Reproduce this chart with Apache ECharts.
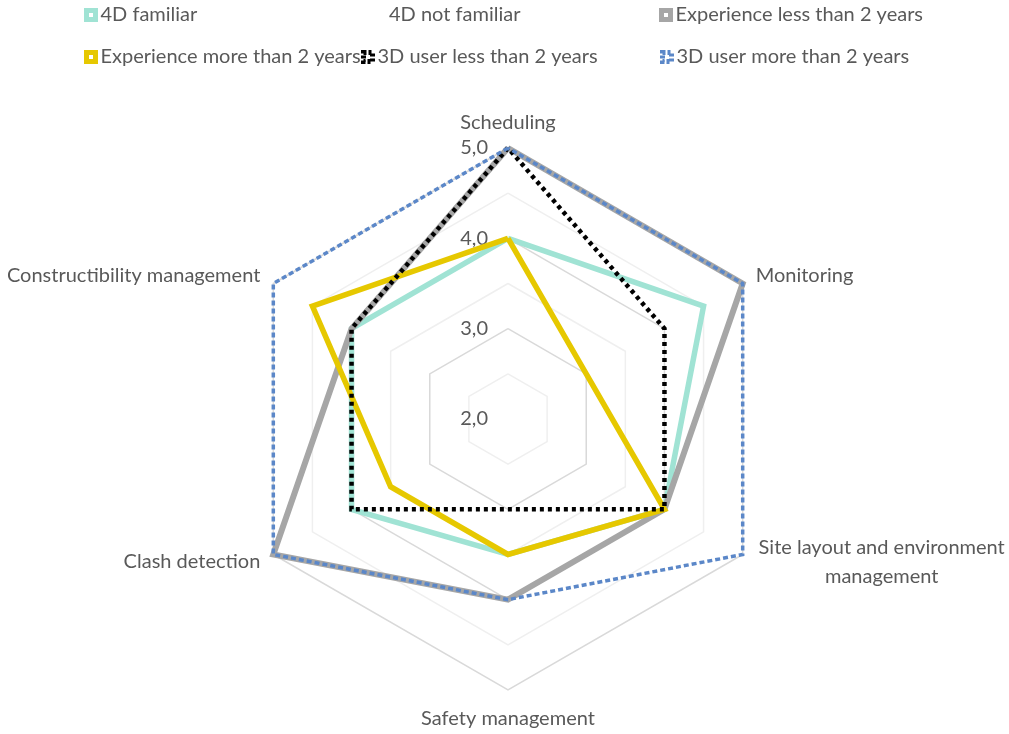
<!DOCTYPE html>
<html>
<head>
<meta charset="utf-8">
<script src="https://cdn.jsdelivr.net/npm/echarts@6/dist/echarts.min.js"></script>
<style>
  html, body { margin: 0; padding: 0; background: #fff; }
  #chart { width: 1009px; height: 734px; }
</style>
</head>
<body>
<div id="chart"></div>
<script>
// Axes, listed clockwise from the top
const categories = [
  'Scheduling',
  'Monitoring',
  'Site layout and environment management',
  'Safety management',
  'Clash detection',
  'Constructibility management'
];

// Scores per group, same order as categories
const fourDFamiliar     = [4.0, 4.5, 4.0, 3.5, 4.0, 4.0];
const fourDNotFamiliar  = [];
const expLessThan2      = [5.0, 5.0, 4.0, 4.0, 5.0, 4.0];
const expMoreThan2      = [4.0, 3.0, 4.0, 3.5, 3.5, 4.5];
const user3DLessThan2   = [5.0, 4.0, 4.0, 3.0, 4.0, 4.0];
const user3DMoreThan2   = [5.0, 5.0, 5.0, 4.0, 5.0, 5.0];

const seriesNames = [
  '4D familiar',
  '4D not familiar',
  'Experience less than 2 years',
  'Experience more than 2 years',
  '3D user less than 2 years',
  '3D user more than 2 years'
];

const scaleMin = 2;
const scaleMax = 5;
const scaleSteps = 6;

const TEXT = '#595959';
const FONT = 'Lato';
const FS = 20;

const styles = [
  { color: '#a0e3d4', width: 5.5, type: 'solid' },
  { color: '#ffffff', width: 0, type: 'solid', opacity: 0 },
  { color: '#a6a6a6', width: 6, type: 'solid' },
  { color: '#e6c800', width: 5.5, type: 'solid' },
  { color: '#000000', width: 4.5, type: [4, 4] },
  { color: '#5b87c8', width: 3.5, type: [5, 3] }
];

const seriesValues = [fourDFamiliar, fourDNotFamiliar, expLessThan2, expMoreThan2, user3DLessThan2, user3DMoreThan2];

// ECharts places indicators counter-clockwise, so keep the first and reverse the rest
const toCCW = arr => arr.length ? [arr[0]].concat(arr.slice(1).reverse()) : [];

const indicators = toCCW(categories).map((name, i) => ({
  name: name,
  min: scaleMin,
  max: scaleMax,
  axisLabel: i === 0 ? {
    show: true,
    color: TEXT,
    fontFamily: FONT,
    fontSize: FS,
    margin: 20,
    formatter: v => (Math.abs(v - Math.round(v)) < 1e-6 ? v.toFixed(1).replace('.', ',') : '')
  } : { show: false }
}));

const series = seriesNames.map((name, i) => ({
  type: 'radar',
  name: name,
  symbol: 'none',
  z: 2 + i,
  silent: true,
  lineStyle: {
    color: styles[i].color,
    width: styles[i].width,
    type: styles[i].type,
    opacity: styles[i].opacity === undefined ? 1 : styles[i].opacity,
    cap: 'butt',
    join: 'miter'
  },
  itemStyle: { color: styles[i].color },
  data: [{ name: name, value: toCCW(seriesValues[i]) }]
}));

// One legend block per entry, laid out in two rows of three
const legendSlots = [
  { left: 84, top: 5 },
  { left: 375, top: 5 },
  { left: 659, top: 5 },
  { left: 84, top: 47 },
  { left: 361, top: 47 },
  { left: 660, top: 47 }
];

const legends = seriesNames.map((name, i) => {
  const st = styles[i];
  const hidden = i === 1;
  return {
    left: legendSlots[i].left,
    top: legendSlots[i].top,
    orient: 'horizontal',
    padding: 0,
    selectedMode: false,
    itemWidth: 9,
    itemHeight: 9,
    itemGap: 0,
    textStyle: { color: TEXT, fontFamily: FONT, fontSize: FS, padding: [0, 0, 0, 0] },
    lineStyle: { width: 0, opacity: 0 },
    data: [{
      name: name,
      icon: hidden ? 'none' : 'rect',
      itemStyle: {
        color: '#ffffff',
        borderColor: st.color,
        borderWidth: 5,
        borderType: Array.isArray(st.type) ? [3, 2] : 'solid',
        opacity: 1
      }
    }]
  };
});

const chart = echarts.init(document.getElementById('chart'), null, { renderer: 'canvas' });
chart.setOption({
  backgroundColor: '#ffffff',
  animation: false,
  legend: legends,
  radar: {
    center: [508, 419],
    radius: 271,
    startAngle: 90,
    splitNumber: scaleSteps,
    shape: 'polygon',
    nameGap: 15,
    axisName: {
      color: TEXT,
      fontFamily: FONT,
      fontSize: FS,
      formatter: function (name) {
        if (name === 'Site layout and environment management') {
          return '{c|Site layout and environment}\n{c|management}';
        }
        if (name === 'Safety management') {
          return '{s|' + name + '}';
        }
        return name;
      },
      rich: {
        c: { width: 252, align: 'center', color: TEXT, fontFamily: FONT, fontSize: FS, lineHeight: 29 },
        s: { color: TEXT, fontFamily: FONT, fontSize: FS, lineHeight: 28 }
      }
    },
    axisLine: { show: false },
    axisTick: { show: false },
    splitArea: { show: false },
    splitLine: {
      lineStyle: { color: ['#d9d9d9', '#efefef'], width: 1.5 }
    },
    indicator: indicators
  },
  series: series
});
</script>
</body>
</html>
